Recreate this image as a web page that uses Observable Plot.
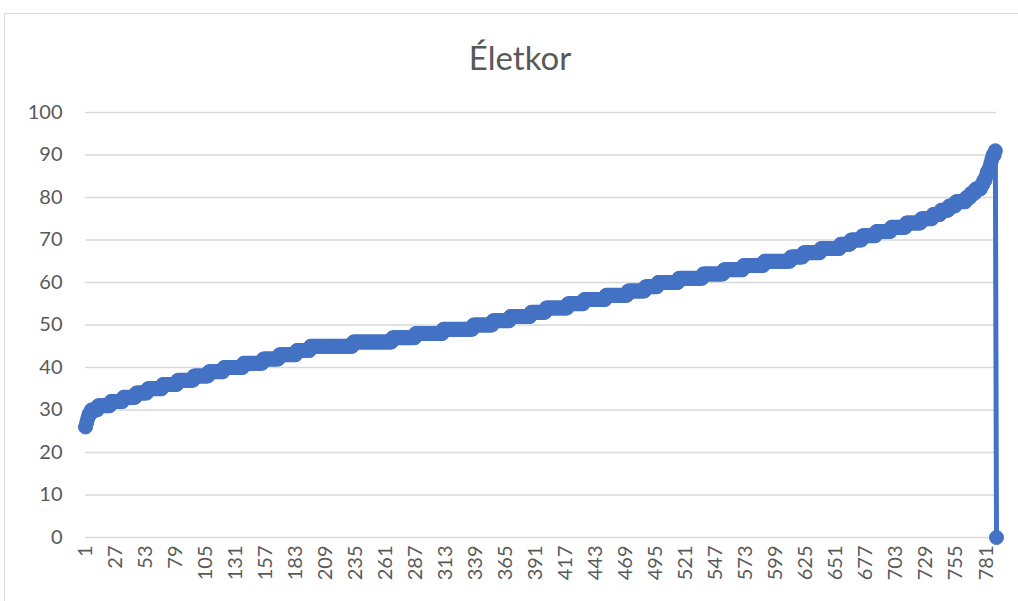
<!DOCTYPE html>
<html>
<head>
<meta charset="utf-8">
<script src="https://cdn.jsdelivr.net/npm/d3@7"></script>
<script src="https://cdn.jsdelivr.net/npm/@observablehq/plot@0.6"></script>
<style>
  html, body { margin: 0; padding: 0; background: #fff; overflow: hidden; }
  #wrap { position: relative; width: 1018px; height: 601px; overflow: hidden; font-family: Lato, "Open Sans", sans-serif; }
  #frame { position: absolute; left: 4px; top: 13px; width: 1200px; height: 800px; border: 1px solid #d9d9d9; box-sizing: border-box; pointer-events: none; }
  #title { position: relative; height: 95px; box-sizing: border-box; padding-top: 38px; padding-left: 22px; text-align: center; font-size: 33px; line-height: 1.2; color: #595959; font-family: Lato, sans-serif; }
  #chart svg { display: block; }
</style>
</head>
<body>
<div id="wrap">
  <div id="frame"></div>
  <div id="title">Életkor</div>
  <div id="chart"></div>
</div>
<script>
// Age values (sorted ascending) and how many respondents have each age
const ages = [26,27,28,29,30,31,32,33,34,35,36,37,38,39,40,41,42,43,44,45,46,47,48,49,50,51,52,53,54,55,56,57,58,59,60,61,62,63,64,65,66,67,68,69,70,71,72,73,74,75,76,77,78,79,80,81,82,83,84,85,86,87,88,89,90,91];
const counts = [1,1,1,2,6,11,11,11,10,13,13,14,13,13,17,17,14,15,12,37,34,20,24,26,17,15,18,13,19,14,19,19,15,11,18,21,18,17,18,23,11,15,17,9,10,12,13,13,13,10,7,7,6,9,4,4,5,2,2,1,2,1,1,1,2,1];
// the last (empty) row is plotted as 0
const trailingValues = [0];
const xTickLabels = [1,27,53,79,105,131,157,183,209,235,261,287,313,339,365,391,417,443,469,495,521,547,573,599,625,651,677,703,729,755,781];
const yTicks = [0,10,20,30,40,50,60,70,80,90,100];

const values = [];
ages.forEach((a, k) => { for (let j = 0; j < counts[k]; j++) values.push(a); });
trailingValues.forEach(v => values.push(v));
const data = values.map((v, i) => ({i: i + 1, v}));

const color = "#4472C4";
const chart = Plot.plot({
  width: 1018,
  height: 506,
  marginTop: 17,
  marginBottom: 64,
  marginLeft: 85,
  marginRight: 22,
  style: {fontFamily: "Lato, sans-serif", fontSize: "20px", color: "#595959", background: "transparent", overflow: "visible"},
  x: {type: "linear", domain: [1, data.length]},
  y: {domain: [0, 100]},
  marks: [
    Plot.gridY(yTicks, {stroke: "#d9d9d9", strokeOpacity: 1, strokeWidth: 1.3}),
    Plot.axisY(yTicks, {tickSize: 0, tickPadding: 23, label: null, fill: "#595959"}),
    Plot.axisX(xTickLabels, {tickSize: 0, tickPadding: 8, tickRotate: -90, label: null, fill: "#595959"}),
    Plot.line(data, {x: "i", y: "v", stroke: color, strokeWidth: 5}),
    Plot.dot(data, {x: "i", y: "v", r: 7, fill: color, stroke: color, strokeWidth: 1})
  ]
});
document.getElementById("chart").appendChild(chart);
</script>
</body>
</html>
